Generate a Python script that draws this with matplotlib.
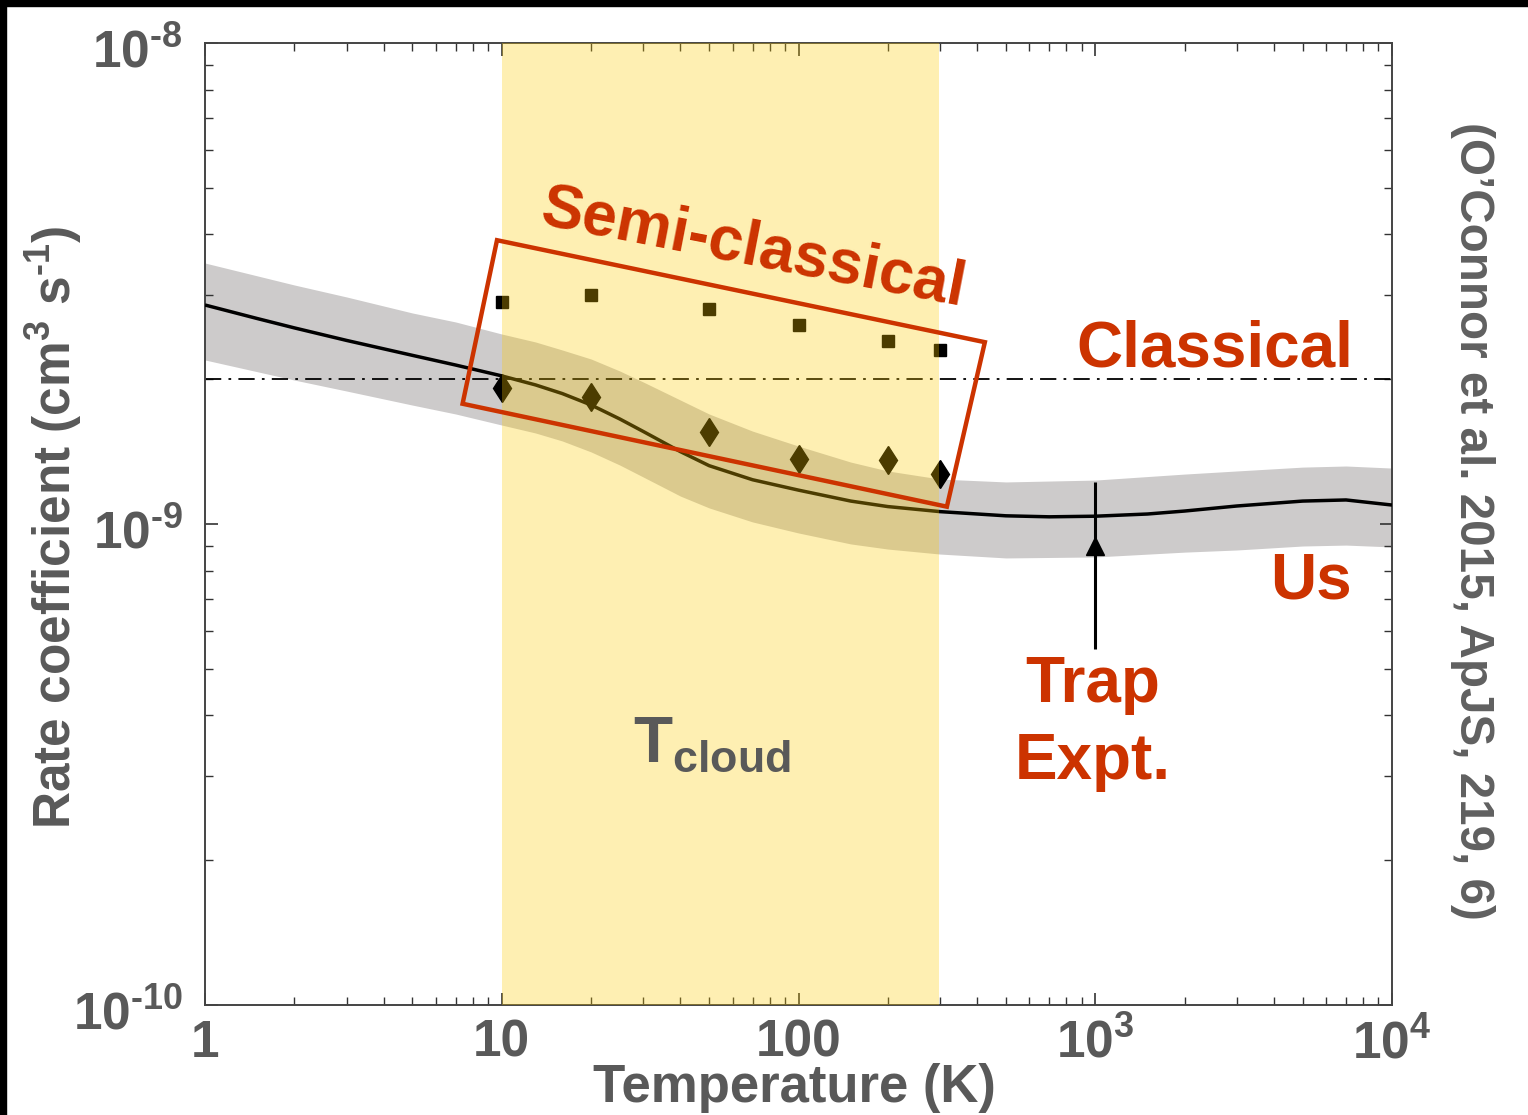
import numpy as np
import matplotlib
matplotlib.use('Agg')
from matplotlib import pyplot as plt
from matplotlib.patches import Polygon, Rectangle
import matplotlib.transforms as mtransforms

plt.rcParams['font.family'] = 'Liberation Sans'
plt.rcParams['font.weight'] = 'bold'
plt.rcParams['mathtext.fontset'] = 'custom'
plt.rcParams['mathtext.rm'] = 'Liberation Sans:bold'
plt.rcParams['mathtext.bf'] = 'Liberation Sans:bold'
plt.rcParams['mathtext.default'] = 'rm'

GRAY = '#595959'
RED = '#CC3300'

# "Us" calculation: centre line (cm^3 s^-1)
T_us = [1, 1.5, 2, 3, 5, 7, 10, 13, 16, 20, 25, 30, 40, 50, 70, 100, 150, 200, 300, 500, 700,
        1000, 1500, 2000, 3000, 5000, 7000, 10000]
k_us = [2.853e-9, 2.674e-9, 2.557e-9, 2.408e-9, 2.242e-9, 2.14e-9, 2.032e-9, 1.946e-9, 1.867e-9,
        1.768e-9, 1.653e-9, 1.557e-9, 1.414e-9, 1.322e-9, 1.236e-9, 1.176e-9, 1.116e-9, 1.087e-9,
        1.061e-9, 1.04e-9, 1.035e-9, 1.038e-9, 1.049e-9, 1.064e-9, 1.09e-9, 1.116e-9, 1.122e-9,
        1.095e-9]

# uncertainty band of the calculation
T_band = [1, 2, 3, 5, 7, 10, 13, 16, 20, 25, 30, 40, 50, 70, 100, 150, 200, 300, 500, 1000,
          2000, 3000, 5000, 7000, 10000]
k_upper = [3.488e-9, 3.14e-9, 2.965e-9, 2.746e-9, 2.63e-9, 2.483e-9, 2.39e-9, 2.30e-9, 2.203e-9,
           2.08e-9, 1.973e-9, 1.81e-9, 1.693e-9, 1.56e-9, 1.452e-9, 1.345e-9, 1.289e-9, 1.24e-9,
           1.223e-9, 1.234e-9, 1.27e-9, 1.289e-9, 1.313e-9, 1.32e-9, 1.307e-9]
k_lower = [2.193e-9, 1.992e-9, 1.89e-9, 1.767e-9, 1.693e-9, 1.606e-9, 1.546e-9, 1.488e-9,
           1.412e-9, 1.326e-9, 1.252e-9, 1.143e-9, 1.08e-9, 1.01e-9, 0.958e-9, 0.909e-9, 0.887e-9,
           0.866e-9, 0.85e-9, 0.854e-9, 0.874e-9, 0.883e-9, 0.90e-9, 0.904e-9, 0.896e-9]

# semi-classical points
T_semi = [10, 20, 50, 100, 200, 300]
k_squares = [2.89e-9, 2.99e-9, 2.80e-9, 2.59e-9, 2.40e-9, 2.30e-9]
k_diamonds = [1.92e-9, 1.84e-9, 1.55e-9, 1.365e-9, 1.36e-9, 1.27e-9]

# classical (Langevin) value
k_classical = 2.0e-9

# trap experiment
T_trap = [1000]
k_trap = [9.0e-10]
k_trap_lo = [5.5e-10]
k_trap_hi = [1.22e-9]

# cloud temperature range
T_cloud = (10, 297)

HY = '\u2010'  # short hyphen used as the minus sign in the labels
x_ticks = [1, 10, 100, 1000, 10000]
x_ticklabels = ['1', '10', '100', r'$10^3$', r'$10^4$']
y_ticks = [1e-10, 1e-9, 1e-8]
y_ticklabels = [rf'$10^{{{HY}10}}$', rf'$10^{{{HY}9}}$', rf'$10^{{{HY}8}}$']

fig = plt.figure(figsize=(15.28, 11.15), dpi=100)
ax = fig.add_axes([205/1528, 1 - 1005/1115, 1187/1528, 962/1115])
ax.set_xscale('log')
ax.set_yscale('log')
ax.set_xlim(1, 1e4)
ax.set_ylim(1e-10, 1e-8)

ax.fill_between(T_band, k_lower, k_upper, color='#CDCBCB', lw=0, zorder=1)
ax.plot(T_us, k_us, color='black', lw=2.5, zorder=3, solid_capstyle='butt')
ax.axhline(k_classical, color='black', lw=1.3, ls=(0, (9, 4, 1.5, 4)), zorder=2)
ax.plot(T_semi, k_squares, ls='none', marker='s', ms=9, color='black', zorder=3)
ax.plot(T_semi, k_diamonds, ls='none', marker='d', ms=14.5, color='black', zorder=3)

yerr = [[k_trap[0] - k_trap_lo[0]], [k_trap_hi[0] - k_trap[0]]]
ax.errorbar(T_trap, k_trap, yerr=yerr, fmt='^', ms=13, color='black', ecolor='black',
            elinewidth=2.2, capsize=0, zorder=3)

# cloud temperature overlay (tints everything below it)
ax.axvspan(T_cloud[0], T_cloud[1], color='#FCCA02', alpha=0.3, lw=0, zorder=4)

# red box around semi-classical points
box = Polygon([(0.246, 0.795), (0.657, 0.689), (0.625, 0.518), (0.217, 0.625)],
              closed=True, fill=False, edgecolor=RED, lw=3.2, transform=ax.transAxes, zorder=6)
ax.add_patch(box)

ax.text(0.462, 0.786, 'Semi-classical', color=RED, fontsize=45, rotation=-11,
        ha='center', va='center', rotation_mode='anchor', transform=ax.transAxes, zorder=7)
ax.text(0.851, 0.681, 'Classical', color=RED, fontsize=46, ha='center', va='center',
        transform=ax.transAxes, zorder=7)
ax.text(0.932, 0.440, 'Us', color=RED, fontsize=46, ha='center', va='center',
        transform=ax.transAxes, zorder=7)
ax.text(0.748, 0.333, 'Trap', color=RED, fontsize=46, ha='center', va='center',
        transform=ax.transAxes, zorder=7)
ax.text(0.748, 0.253, 'Expt.', color=RED, fontsize=46, ha='center', va='center',
        transform=ax.transAxes, zorder=7)
ax.text(0.427, 0.270, r'T$_{\mathrm{cloud}}$', color=GRAY, fontsize=46, ha='center', va='center',
        transform=ax.transAxes, zorder=7)

ax.set_xticks(x_ticks)
ax.set_xticklabels(x_ticklabels)
ax.set_yticks(y_ticks)
ax.set_yticklabels([])
ax.tick_params(which='both', direction='in', top=True, right=True, colors='#333333',
               labelcolor=GRAY, labelsize=37)
ax.tick_params(which='major', length=9, width=1.2)
ax.tick_params(which='minor', length=6, width=1.0)
ax.tick_params(axis='x', pad=10)

# y tick labels drawn by hand so they sit a little below the tick, as in the original
ylab_tr = mtransforms.blended_transform_factory(ax.transAxes, ax.transData) + \
    mtransforms.ScaledTranslation(-22/100, -11/100, fig.dpi_scale_trans)
for yv, lab in zip(y_ticks, y_ticklabels):
    ax.text(0, yv, lab, transform=ylab_tr, ha='right', va='center', color=GRAY,
            fontsize=37, clip_on=False)

for s in ax.spines.values():
    s.set_color('#444444')
    s.set_linewidth(1.4)

fig.text(794/1528, 1 - 1088/1115, 'Temperature (K)', color=GRAY, fontsize=38,
         ha='center', va='center')
fig.text(54/1528, 1 - 527/1115, rf'Rate coefficient (cm$^3$ s$^{{{HY}1}}$)', color=GRAY,
         fontsize=37, rotation=90, ha='center', va='center')
fig.text(1472/1528, 1 - 521/1115, "(O\u2019Connor et al. 2015, ApJS, 219, 6)", color='#606060',
         fontsize=34.3, rotation=-90, ha='center', va='center')

# black frame edges of the original slide
fig.patches.append(Rectangle((0, 1 - 6/1115), 1, 6/1115, transform=fig.transFigure,
                             color='black', zorder=10))
fig.patches.append(Rectangle((0, 0), 6/1528, 1, transform=fig.transFigure,
                             color='black', zorder=10))

fig.savefig('out.png', dpi=100)
